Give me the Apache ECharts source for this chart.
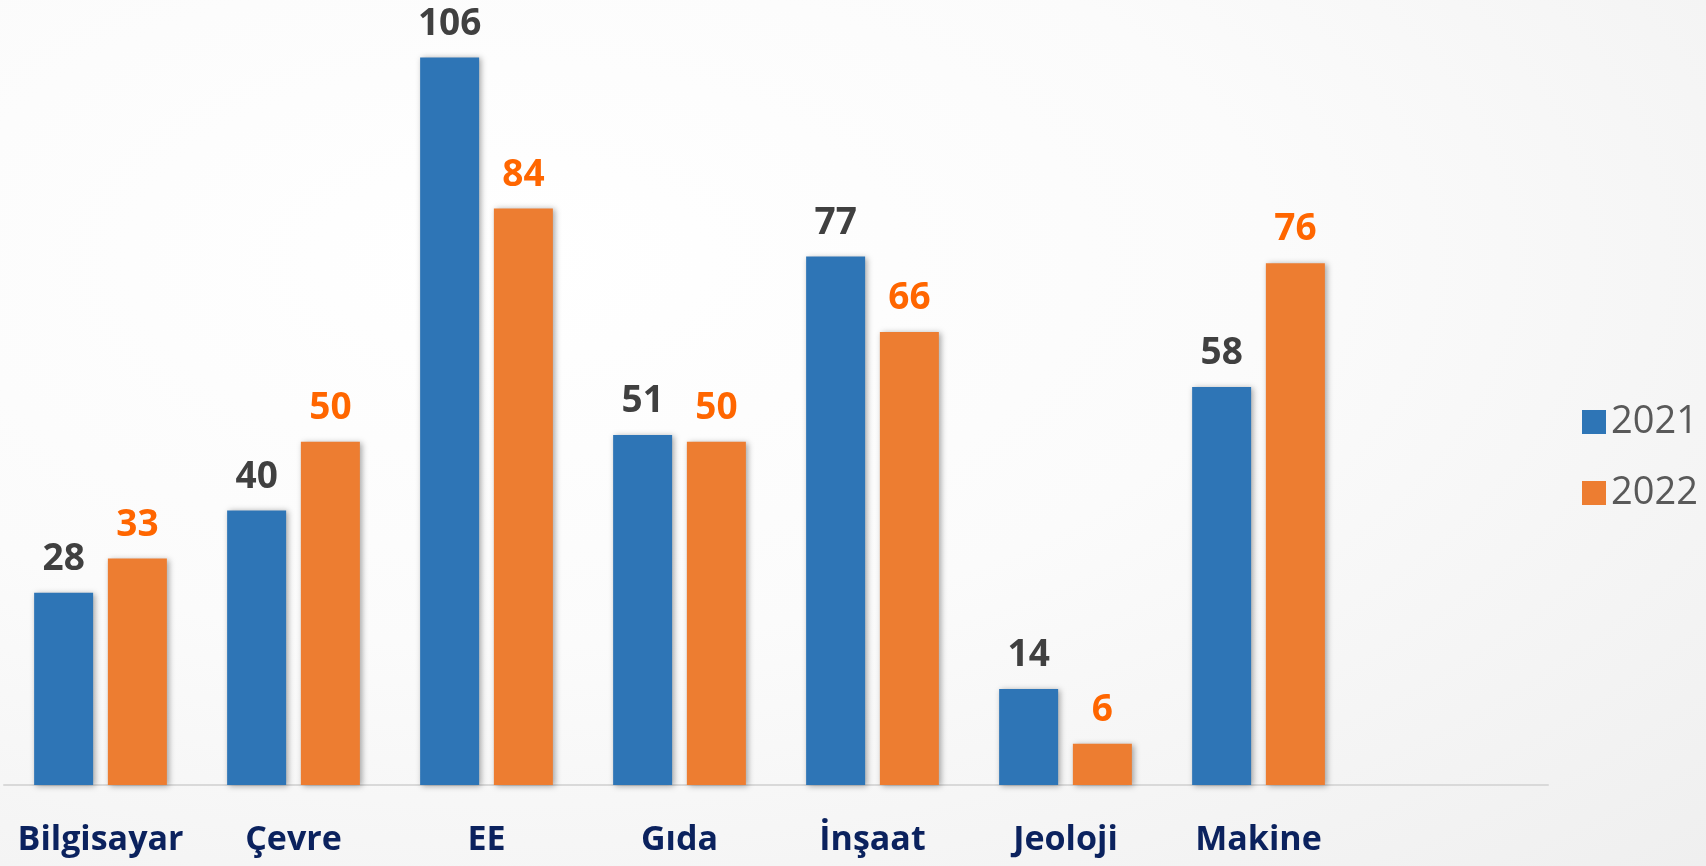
<!DOCTYPE html>
<html>
<head>
<meta charset="utf-8">
<script src="https://cdn.jsdelivr.net/npm/echarts@6/dist/echarts.min.js"></script>
<style>
  html, body { margin: 0; padding: 0; }
  #chart {
    width: 1706px; height: 866px;
    background: radial-gradient(ellipse at 30% 30%, #ffffff 0%, #fbfbfb 45%, #efefef 100%);
  }
</style>
</head>
<body>
<div id="chart"></div>
<script>
  // kategoriler (son boş kategori Excel'deki boşluğu taklit ediyor)
  let categories = ['Bilgisayar', 'Çevre', 'EE', 'Gıda', 'İnşaat', 'Jeoloji', 'Makine', ''];
  let years = ['2021', '2022'];
  let values2021 = [28, 40, 106, 51, 77, 14, 58, null];
  let values2022 = [33, 50, 84, 50, 66, 6, 76, null];

  let chart = echarts.init(document.getElementById('chart'));

  let barShadow = {
    shadowBlur: 6,
    shadowColor: 'rgba(0,0,0,0.35)',
    shadowOffsetX: 2,
    shadowOffsetY: 1
  };

  let option = {
    backgroundColor: 'transparent',
    textStyle: { fontFamily: 'Open Sans' },
    legend: {
      orient: 'vertical',
      left: 1577,
      top: 398,
      itemWidth: 24,
      itemHeight: 24,
      itemGap: 33,
      icon: 'rect',
      textStyle: { fontSize: 38, color: '#595959', fontFamily: 'Open Sans' },
      data: years
    },
    grid: { left: 4, right: 158, top: 30, bottom: 81 },
    xAxis: {
      type: 'category',
      data: categories,
      axisLine: { lineStyle: { color: '#d9d9d9', width: 2 } },
      axisTick: { show: false },
      axisLabel: {
        interval: 0,
        margin: 38,
        fontSize: 34,
        fontWeight: 'bold',
        color: '#0b225e',
        fontFamily: 'Open Sans'
      }
    },
    yAxis: {
      type: 'value',
      min: 0,
      max: 110,
      show: false,
      splitLine: { show: false }
    },
    series: [
      {
        name: years[0],
        type: 'bar',
        data: values2021,
        barWidth: 59,
        barGap: '25%',
        itemStyle: Object.assign({ color: '#2e75b6' }, barShadow),
        label: {
          show: true,
          position: 'top',
          distance: 15,
          fontSize: 37,
          fontWeight: 'bold',
          color: '#404040',
          fontFamily: 'Open Sans'
        }
      },
      {
        name: years[1],
        type: 'bar',
        data: values2022,
        barWidth: 59,
        itemStyle: Object.assign({ color: '#ed7d31' }, barShadow),
        label: {
          show: true,
          position: 'top',
          distance: 15,
          fontSize: 37,
          fontWeight: 'bold',
          color: '#ff6600',
          fontFamily: 'Open Sans'
        }
      }
    ]
  };

  chart.setOption(option);
</script>
</body>
</html>
